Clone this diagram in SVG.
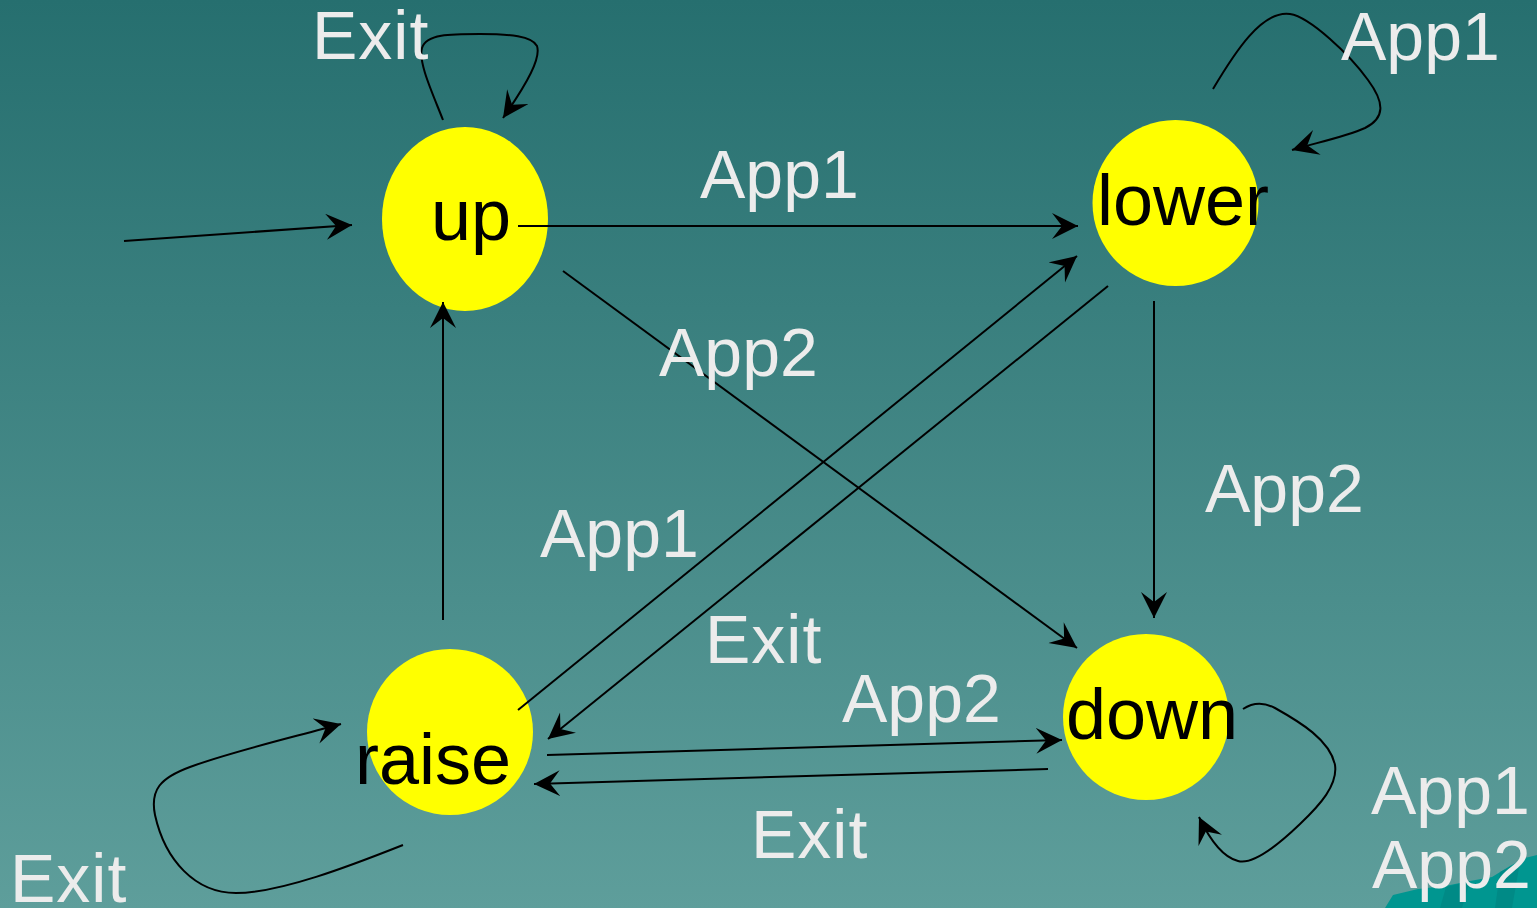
<svg xmlns="http://www.w3.org/2000/svg" width="1537" height="908" viewBox="0 0 1537 908">
<defs>
<linearGradient id="bg" x1="0" y1="0" x2="0" y2="1">
<stop offset="0" stop-color="#266f6f"/>
<stop offset="1" stop-color="#5e9e9b"/>
</linearGradient>
<marker id="ah" markerUnits="userSpaceOnUse" markerWidth="28" markerHeight="28" viewBox="0 0 28 28" refX="26" refY="13" orient="auto">
<path d="M26,13 L0,0 L10,13 L0,26 Z" fill="#000"/>
</marker>
<style>
.node ellipse{fill:#ffff00;stroke:none}
.node text{font-family:"Liberation Sans",Arial,sans-serif;font-size:72px;fill:#000}
.edge{fill:none;stroke:#000;stroke-width:2;marker-end:url(#ah)}
.lbl{font-family:"Liberation Sans",Arial,sans-serif;font-size:68px;fill:#ececec}
.ex{letter-spacing:1px}
</style>
</defs>
<rect x="0" y="0" width="1537" height="908" fill="url(#bg)"/>
<path d="M1385,908 L1393,895 L1418,889 L1445,886 L1470,881 L1492,877 L1510,866 L1525,858 L1537,855 L1537,908 Z" fill="#009690"/>
<path d="M1440,908 L1446,887 L1470,881 L1462,908 Z" fill="#008a86"/>
<path d="M1495,908 L1500,872 L1520,862 L1512,908 Z" fill="#008a86"/>

<g id="node-up" class="node">
<ellipse cx="465" cy="219" rx="83" ry="92"/>
<text x="431" y="240">up</text>
</g>
<g id="node-lower" class="node">
<ellipse cx="1175.5" cy="203" rx="83" ry="83"/>
<text x="1097" y="225">lower</text>
</g>
<g id="node-down" class="node">
<ellipse cx="1146" cy="717" rx="83" ry="83"/>
<text x="1066" y="739">down</text>
</g>
<g id="node-raise" class="node">
<ellipse cx="450" cy="732" rx="83" ry="83"/>
<text x="355" y="784">raise</text>
</g>

<g id="connectors">
<path class="edge" d="M124,241 L352,225"/>
<path class="edge" d="M518,226 L1078,226"/>
<path class="edge" d="M563,271 L1077,648"/>
<path class="edge" d="M518,710 L1077,256"/>
<path class="edge" d="M1108,286 L548,739"/>
<path class="edge" d="M547,755 L1062,740"/>
<path class="edge" d="M1048,769 L534,784"/>
<path class="edge" d="M443,620 L443,302"/>
<path class="edge" d="M1154,301 L1154,618"/>
<path class="edge" d="M443,120 C432,92 418,62 422,48 C426,34 450,34 480,34 C510,34 532,36 537,46 C541,58 528,82 503,118"/>
<path class="edge" d="M1213,89 C1235,52 1262,10 1290,14 C1310,17 1350,55 1368,80 C1385,103 1385,118 1365,128 C1345,137 1315,143 1292,150"/>
<path class="edge" d="M1243,709 C1252,703 1262,701 1275,708 C1300,722 1330,740 1335,765 C1338,785 1320,805 1300,824 C1275,848 1252,865 1238,861 C1222,857 1210,840 1199,817"/>
<path class="edge" d="M403,845 C350,866 280,893 236,893 C195,893 165,860 155,815 C150,790 160,778 190,767 C230,752 290,738 341,724"/>
</g>

<g id="labels">
<text class="lbl ex" x="312" y="59">Exit</text>
<text class="lbl" x="1341" y="60">App1</text>
<text class="lbl" x="700" y="198">App1</text>
<text class="lbl" x="659" y="376">App2</text>
<text class="lbl" x="1205" y="512">App2</text>
<text class="lbl" x="540" y="557">App1</text>
<text class="lbl ex" x="705" y="663">Exit</text>
<text class="lbl" x="842" y="722">App2</text>
<text class="lbl ex" x="751" y="858">Exit</text>
<text class="lbl ex" x="10" y="902">Exit</text>
<text class="lbl" x="1371" y="814">App1</text>
<text class="lbl" x="1372" y="888">App2</text>
</g>
</svg>
